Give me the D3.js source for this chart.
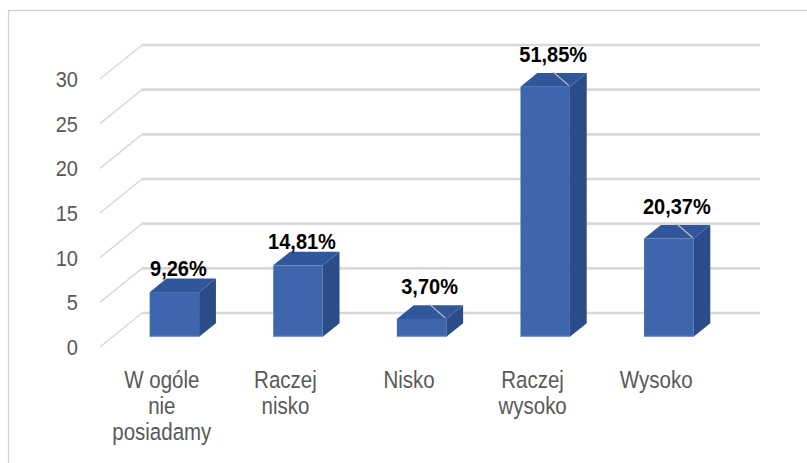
<!DOCTYPE html>
<html>
<head>
<meta charset="utf-8">
<script src="https://cdn.jsdelivr.net/npm/d3@7"></script>
<style>
  html, body { margin: 0; padding: 0; background: #fff; }
  svg { display: block; }
  .tick-label { font-family: "Liberation Sans", Arial, sans-serif; font-size: 20px; fill: #595959; }
  .cat-label  { font-family: "Liberation Sans", Arial, sans-serif; font-size: 20.5px; fill: #595959; }
  .val-label  { font-family: "Liberation Sans", Arial, sans-serif; font-size: 20px; font-weight: bold; fill: #000; }
</style>
</head>
<body>
<div id="chart"></div>
<script>
// ---- data ----
const categories = ['W ogóle\nnie\nposiadamy', 'Raczej\nnisko', 'Nisko', 'Raczej\nwysoko', 'Wysoko'];
const counts     = [5, 8, 2, 28, 11];
const yTicks     = [0, 5, 10, 15, 20, 25, 30];
const movedLabel = [false, false, true, true, true];   // labels dragged up, with leader line

const total = d3.sum(counts);
const pct = v => (v / total * 100).toFixed(2).replace('.', ',') + '%';

const W = 807, H = 463;
const svg = d3.select('#chart').append('svg').attr('width', W).attr('height', H);

// chart area border (runs off the picture right and bottom)
svg.append('rect')
  .attr('x', 8.5).attr('y', 10.5).attr('width', 830).attr('height', 480)
  .attr('fill', 'none').attr('stroke', '#d0d0d0').attr('stroke-width', 1.2);

// front edge of the floor + depth vector of the 3D box
const x = d3.scaleBand().domain(d3.range(categories.length)).range([100, 718]);
const y = d3.scaleLinear().domain([0, 30]).range([347, 79]);
const depth = { dx: 42, dy: -34 };
const barFront = 0.3, barBack = 0.7, barWidth = 0.4;
const stretch = 1.13;   // text in the picture is a bit taller than wide

// side wall diagonals + back wall gridlines
const grid = svg.append('g');
grid.selectAll('.diag').data(yTicks).enter().append('line')
  .attr('x1', 100).attr('y1', d => y(d))
  .attr('x2', 100 + depth.dx).attr('y2', d => y(d) + depth.dy)
  .attr('stroke', '#d9d9d9').attr('stroke-width', 1.5);
grid.selectAll('.back').data(yTicks).enter().append('line')
  .attr('x1', 100 + depth.dx).attr('y1', d => y(d) + depth.dy)
  .attr('x2', 718 + depth.dx).attr('y2', d => y(d) + depth.dy)
  .attr('stroke', '#d9d9d9').attr('stroke-width', 2.6);

// y tick labels
svg.selectAll('.tick-label').data(yTicks).enter().append('text')
  .attr('class', 'tick-label')
  .attr('transform', d => `translate(78, ${y(d)}) scale(1, ${stretch})`)
  .attr('dy', '0.36em').attr('text-anchor', 'end')
  .text(d => d);

// bars
const bars = counts.map((v, i) => {
  const ox = depth.dx * barFront, oy = depth.dy * barFront;
  const cx = x(i) + x.bandwidth() / 2 + ox;
  const bw = x.bandwidth() * barWidth;
  const xl = cx - bw / 2, xr = cx + bw / 2;
  const yb = y(0) + oy, yt = y(v) + oy;
  const ddx = depth.dx * (barBack - barFront), ddy = depth.dy * (barBack - barFront);
  return { v, i, cx, xl, xr, yb, yt, ddx, ddy };
});

const bg = svg.append('g');
bars.forEach(b => {
  const g = bg.append('g');
  g.append('rect')
    .attr('x', b.xl).attr('y', b.yt).attr('width', b.xr - b.xl).attr('height', b.yb - b.yt)
    .attr('fill', '#3d66ad');
  g.append('line')
    .attr('x1', b.xl).attr('x2', b.xr).attr('y1', b.yb - 0.5).attr('y2', b.yb - 0.5)
    .attr('stroke', '#7f9bd0').attr('stroke-width', 1);
  g.append('path')
    .attr('d', `M${b.xr},${b.yt} L${b.xr + b.ddx},${b.yt + b.ddy} L${b.xr + b.ddx},${b.yb + b.ddy} L${b.xr},${b.yb}Z`)
    .attr('fill', '#2b4c88');
  g.append('path')
    .attr('d', `M${b.xl},${b.yt} L${b.xr},${b.yt} L${b.xr + b.ddx},${b.yt + b.ddy} L${b.xl + b.ddx},${b.yt + b.ddy}Z`)
    .attr('fill', '#30579b');
});

// value labels (+ leader lines for the moved ones)
bars.forEach(b => {
  const moved = movedLabel[b.i];
  const lx = b.cx + (moved ? 8 : 4);
  const ly = b.yt + b.ddy - (moved ? 11 : 3);
  if (moved) {
    svg.append('line')
      .attr('x1', lx).attr('y1', ly + 10)
      .attr('x2', b.xr - 1).attr('y2', b.yt - 1)
      .attr('stroke', '#bfbfbf').attr('stroke-width', 1.2);
  }
  svg.append('text')
    .attr('class', 'val-label')
    .attr('transform', `translate(${lx}, ${ly}) scale(1, 1.06)`)
    .attr('text-anchor', 'middle')
    .text(pct(b.v));
});

// category labels
svg.selectAll('.cat-label').data(categories).enter().append('text')
  .attr('class', 'cat-label')
  .attr('text-anchor', 'middle')
  .attr('transform', (d, i) => `translate(${x(i) + x.bandwidth() / 2}, 388) scale(1, ${stretch})`)
  .each(function(d) {
    d.split('\n').forEach((line, k) => {
      d3.select(this).append('tspan').attr('x', 0).attr('y', k * 26 / stretch).text(line);
    });
  });
</script>
</body>
</html>
